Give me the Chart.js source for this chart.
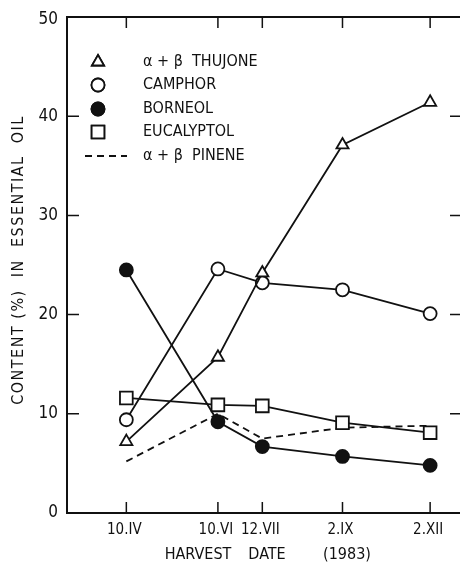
<!DOCTYPE html>
<html>
<head>
<meta charset="utf-8">
<script src="https://cdn.jsdelivr.net/npm/chart.js@4.4.1/dist/chart.umd.min.js"></script>
<style>
  html, body { margin: 0; padding: 0; background: #fff; }
  #wrap { width: 460px; height: 569px; }
</style>
</head>
<body>
<div id="wrap"><canvas id="chart" width="460" height="569"></canvas></div>
<script>
// ---- data ----
const harvestDates = ['10.IV', '10.VI', '12.VII', '2.IX', '2.XII'];
const harvestPos = [15.1, 38.4, 49.7, 70.1, 92.4];   // position along the date axis (0-100)
const thujone = [7.2, 15.7, 24.2, 37.1, 41.4];
const camphor = [9.4, 24.6, 23.2, 22.5, 20.1];
const borneol = [24.5, 9.2, 6.7, 5.7, 4.8];
const eucalyptol = [11.6, 10.9, 10.8, 9.1, 8.1];
const pinene = [5.2, 10.0, 7.5, 8.6, 8.8];
const yTicks = [0, 10, 20, 30, 40, 50];

const FONT = '"Liberation Sans Narrow", "DejaVu Sans Condensed", "DejaVu Sans", sans-serif';
const INK = '#111';

const pts = vals => vals.map((v, i) => ({ x: harvestPos[i], y: v }));

const datasets = [
  { label: 'α + β  THUJONE', data: pts(thujone), pointStyle: 'triangle', pointRadius: 7, pointBackgroundColor: '#fff' },
  { label: 'CAMPHOR', data: pts(camphor), pointStyle: 'circle', pointRadius: 6.5, pointBackgroundColor: '#fff' },
  { label: 'BORNEOL', data: pts(borneol), pointStyle: 'circle', pointRadius: 6.5, pointBackgroundColor: INK },
  { label: 'EUCALYPTOL', data: pts(eucalyptol), pointStyle: 'rect', pointRadius: 9, pointBackgroundColor: '#fff' },
  { label: 'α + β  PINENE', data: pts(pinene), pointRadius: 0, borderDash: [7, 5] }
].map(d => Object.assign({
  borderColor: INK, borderWidth: 1.8, pointBorderColor: INK, pointBorderWidth: 1.8,
  tension: 0, fill: false
}, d));

// axes, inward ticks, labels and legend drawn by hand like the printed figure
const framePlugin = {
  id: 'frame',
  afterDraw(chart) {
    const { ctx, chartArea: a, scales: { x, y } } = chart;
    ctx.save();
    ctx.strokeStyle = INK;
    ctx.fillStyle = INK;
    ctx.lineWidth = 2;
    ctx.beginPath();
    ctx.moveTo(a.right, a.top); ctx.lineTo(a.left, a.top);
    ctx.lineTo(a.left, a.bottom); ctx.lineTo(a.right, a.bottom);
    ctx.stroke();

    ctx.lineWidth = 1.5;
    ctx.font = '17px ' + FONT;
    ctx.textAlign = 'right'; ctx.textBaseline = 'middle';
    yTicks.forEach(v => {
      const py = y.getPixelForValue(v);
      ctx.beginPath();
      ctx.moveTo(a.left, py); ctx.lineTo(a.left + 12, py);
      ctx.moveTo(a.right, py); ctx.lineTo(a.right - 10, py);
      ctx.stroke();
      ctx.fillText(String(v), a.left - 9, py + (v === 50 ? 3 : 0));
    });

    ctx.font = '15px ' + FONT;
    ctx.textAlign = 'center'; ctx.textBaseline = 'middle';
    harvestPos.forEach((p, i) => {
      const px = x.getPixelForValue(p);
      ctx.beginPath();
      ctx.moveTo(px, a.bottom); ctx.lineTo(px, a.bottom - 11);
      ctx.moveTo(px, a.top); ctx.lineTo(px, a.top + 11);
      ctx.stroke();
      ctx.fillText(harvestDates[i], px - 2, a.bottom + 17);
    });

    ctx.font = '16px ' + FONT;
    ctx.fillText('HARVEST', 198, 555);
    ctx.fillText('DATE', 267, 555);
    ctx.fillText('(1983)', 347, 555);

    ctx.save();
    ctx.translate(19, 260);
    ctx.rotate(-Math.PI / 2);
    ctx.letterSpacing = '1.5px';
    ctx.fillText('CONTENT (%)  IN  ESSENTIAL  OIL', 0, 0);
    ctx.restore();

    // legend
    ctx.textAlign = 'left';
    const rowY = [62, 85, 109, 132, 156];
    datasets.forEach((d, i) => {
      const ly = rowY[i];
      if (d.pointRadius > 0) {
        ctx.fillStyle = d.pointBackgroundColor;
        ctx.lineWidth = 1.8;
        Chart.helpers.drawPoint(ctx, { pointStyle: d.pointStyle, radius: d.pointRadius, borderWidth: 1.8 }, 98, ly);
        ctx.fill();
        ctx.stroke();
      } else {
        ctx.lineWidth = 1.8;
        ctx.setLineDash(d.borderDash);
        ctx.beginPath(); ctx.moveTo(85, ly); ctx.lineTo(127, ly); ctx.stroke();
        ctx.setLineDash([]);
      }
      ctx.fillStyle = INK;
      ctx.fillText(d.label, 143, ly);
    });
    ctx.restore();
  }
};

new Chart(document.getElementById('chart'), {
  type: 'line',
  data: { datasets },
  options: {
    responsive: false,
    animation: false,
    layout: { autoPadding: false, padding: { left: 67, top: 17, right: 0, bottom: 56 } },
    plugins: { legend: { display: false }, tooltip: { enabled: false } },
    scales: {
      x: { type: 'linear', min: 0, max: 100, display: false },
      y: { type: 'linear', min: 0, max: 50, display: false }
    }
  },
  plugins: [framePlugin]
});
</script>
</body>
</html>
